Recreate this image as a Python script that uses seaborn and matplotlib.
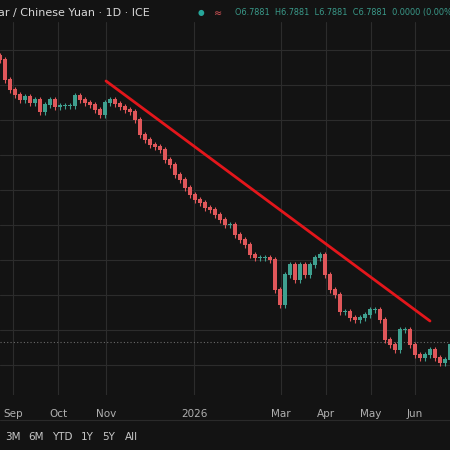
import matplotlib
matplotlib.use("Agg")
import matplotlib.pyplot as plt
import seaborn as sns
import numpy as np
import pandas as pd

# bar positions (horizontal pixel scale of the chart) and close levels (vertical chart units, down = lower price)
bar_pos = list(range(0, 455, 5))
close_lvl = [60, 80, 90, 95, 100, 97, 103, 100, 112, 105, 100, 107, 106, 106, 106, 96, 100, 103, 105, 110,
             115, 103, 100, 104, 107, 110, 112, 120, 135, 140, 145, 147, 150, 160, 165, 175, 180, 188, 195, 200,
             203, 208, 210, 215, 220, 225, 225, 235, 240, 245, 255, 258, 258, 258, 260, 290, 305, 275, 265, 280,
             265, 275, 265, 258, 255, 275, 290, 295, 312, 312, 318, 320, 318, 315, 310, 310, 320, 340, 345, 350,
             330, 330, 345, 355, 358, 355, 350, 358, 363, 360, 345]
tick_pos = [13, 58, 106, 194, 281, 326, 371, 415]
tick_labels = ["Sep", "Oct", "Nov", "2026", "Mar", "Apr", "May", "Jun"]
trend_x = [106, 430]
trend_lvl = [81, 321]
last_price = 6.7881

def to_price(v):
    return 7.2 - np.asarray(v, dtype=float) / 3500.0

sns.set_theme(style="dark")
bg = "#131313"
fig = plt.figure(figsize=(4.5, 4.5), dpi=100, facecolor=bg)
ax = fig.add_axes([0, 55/450, 1, 373/450], facecolor=bg)

c = to_price(close_lvl)
o = np.concatenate([[c[0] + 0.001], c[:-1]])
hi = np.maximum(o, c) + 0.0009
lo = np.minimum(o, c) - 0.0009
up = c >= o
cols = np.where(up, "#3fa08f", "#e0575a")
x = np.array(bar_pos)
ax.vlines(x, lo, hi, colors=cols, linewidth=0.8, zorder=3)
ax.bar(x, np.abs(c - o) + 0.0004, bottom=np.minimum(o, c), width=3.6, color=cols, zorder=4, linewidth=0)

df = pd.DataFrame({"x": trend_x, "y": to_price(trend_lvl)})
sns.lineplot(data=df, x="x", y="y", ax=ax, color="#e3161b", linewidth=2, zorder=5)

ax.set_xlim(0, 450)
ax.set_ylim(to_price(395), to_price(22))
ax.set_xticks(tick_pos)
ax.set_xticklabels(tick_labels, color="#b0b0b0", fontsize=7.5)
ax.set_yticks(to_price([50 + 35 * k for k in range(10)]))
ax.tick_params(axis="x", length=0, pad=10)
ax.set_yticklabels([])
ax.tick_params(axis="y", length=0)
ax.grid(True, color="#2c2c2c", linewidth=0.8)
ax.axhline(to_price(342), color="#6a6a6a", linestyle=(0, (1, 2)), linewidth=0.8)
ax.set_xlabel(""); ax.set_ylabel("")
for s in ax.spines.values():
    s.set_visible(False)

fig.text(-0.005, 1 - 13/450, "ar / Chinese Yuan · 1D · ICE", color="#d8d8d8", fontsize=8, va="center")
fig.text(0.44, 1 - 13/450, "●", color="#26a69a", fontsize=5.5, va="center")
fig.text(0.475, 1 - 13/450, "≈", color="#e0575a", fontsize=7, va="center")
fig.text(0.522, 1 - 13/450, f"O{last_price}  H{last_price}  L{last_price}  C{last_price}  0.0000 (0.00%)",
         color="#3a9a8a", fontsize=5.9, va="center")
fig.add_artist(plt.Line2D([0, 1], [1 - 420/450] * 2, color="#2a2a2a", linewidth=0.8))
for lab, px in zip(["3M", "6M", "YTD", "1Y", "5Y", "All"], [5, 28, 52, 81, 102, 125]):
    fig.text(px/450, 1 - 437/450, lab, color="#c8c8c8", fontsize=7.5, va="center")

fig.savefig("out.png", dpi=100, facecolor=bg)
